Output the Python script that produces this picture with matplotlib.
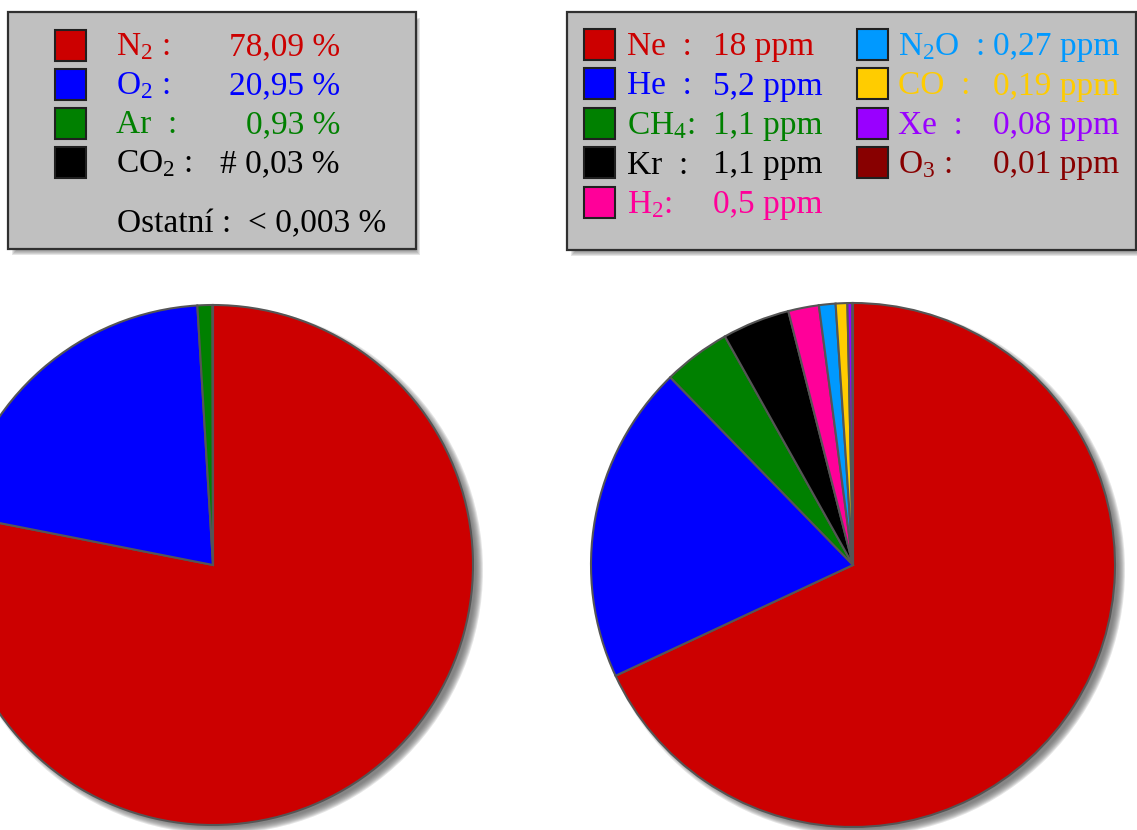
import matplotlib.pyplot as plt
from matplotlib.patches import Rectangle, Circle

plt.rcParams['font.family'] = ['Liberation Serif', 'DejaVu Serif']
plt.rcParams['mathtext.fontset'] = 'custom'
plt.rcParams['mathtext.rm'] = 'Liberation Serif'
plt.rcParams['mathtext.it'] = 'Liberation Serif:italic'

W, H = 1137, 830

# main gases, percent by volume
main_names = [r'N$_2$ :', r'O$_2$ :', 'Ar  :', r'CO$_2$ :']
main_values = [78.09, 20.95, 0.93, 0.03]
main_labels = ['78,09 %', '20,95 %', '0,93 %', '# 0,03 %']
main_colors = ['#cc0000', '#0000ff', '#008000', '#000000']
other_label = 'Ostatní :  < 0,003 %'

# trace gases, ppm
trace_names = ['Ne  :', 'He  :', r'CH$_4$:', 'Kr  :', r'H$_2$:',
               r'N$_2$O  :', 'CO  :', 'Xe  :', r'O$_3$ :']
trace_values = [18, 5.2, 1.1, 1.1, 0.5, 0.27, 0.19, 0.08, 0.01]
trace_labels = ['18 ppm', '5,2 ppm', '1,1 ppm', '1,1 ppm', '0,5 ppm',
                '0,27 ppm', '0,19 ppm', '0,08 ppm', '0,01 ppm']
trace_colors = ['#cc0000', '#0000ff', '#008000', '#000000', '#ff0099',
                '#0099ff', '#ffcc00', '#9900ff', '#880000']

FS = 24


def Y(y):
    # pixel row measured from the top -> data y
    return H - y


def circle_shadow(ax, cx, cy, r):
    for i in range(8):
        ax.add_patch(Circle((cx + 6, cy - 5), r + 4 - i, fc='#606060',
                            lw=0, alpha=0.16, zorder=0))


def box(ax, x0, y0, x1, y1):
    for i in range(5):
        ax.add_patch(Rectangle((x0 + 4 + i, Y(y1) - 6 + i),
                               x1 - x0 - 2 * i, y1 - y0 - 2 * i,
                               fc='#606060', lw=0, alpha=0.16, zorder=2))
    ax.add_patch(Rectangle((x0, Y(y1)), x1 - x0, y1 - y0, fc='#c0c0c0',
                           ec='#303030', lw=1.6, zorder=3))


def swatch(ax, x, ytop, color):
    ax.add_patch(Rectangle((x, Y(ytop + 31)), 31, 31, fc=color,
                           ec='#202020', lw=1.5, zorder=4))


fig = plt.figure(figsize=(11.37, 8.30), dpi=100)
ax = fig.add_axes([0, 0, 1, 1])

wedge_style = dict(edgecolor='#555555', linewidth=1.5)

circle_shadow(ax, 213, Y(565), 260)
ax.pie(main_values, colors=main_colors, startangle=90, counterclock=False,
       center=(213, Y(565)), radius=260, wedgeprops=wedge_style, frame=True)

circle_shadow(ax, 853, Y(565), 262)
ax.pie(trace_values, colors=trace_colors, startangle=90, counterclock=False,
       center=(853, Y(565)), radius=262, wedgeprops=wedge_style, frame=True)

# left legend
box(ax, 8, 12, 416, 249)
for i, (name, lab, col) in enumerate(zip(main_names, main_labels, main_colors)):
    top = 30 + 39 * i
    base = 55 + 39 * i
    swatch(ax, 55, top, col)
    ax.text(116, Y(base), name, color=col, fontsize=FS, va='baseline', zorder=5)
    ax.text(340, Y(base), lab, color=col, fontsize=FS, va='baseline',
            ha='right', zorder=5)
ax.text(117, Y(232), other_label, color='black', fontsize=FS, va='baseline',
        zorder=5)

# right legend, two columns
box(ax, 567, 12, 1136, 250)
for i, (name, lab, col) in enumerate(zip(trace_names, trace_labels, trace_colors)):
    if i < 5:
        sx, nx, vx, row = 584, 627, 713, i
    else:
        sx, nx, vx, row = 857, 898, 993, i - 5
    top = 29 + 39.5 * row
    base = 55 + 39.5 * row
    swatch(ax, sx, top, col)
    ax.text(nx, Y(base), name, color=col, fontsize=FS, va='baseline', zorder=5)
    ax.text(vx, Y(base), lab, color=col, fontsize=FS, va='baseline', zorder=5)

ax.set_xlim(0, W)
ax.set_ylim(0, H)
ax.set_aspect('auto')
ax.axis('off')

fig.savefig('out.png', dpi=100, facecolor='white')
